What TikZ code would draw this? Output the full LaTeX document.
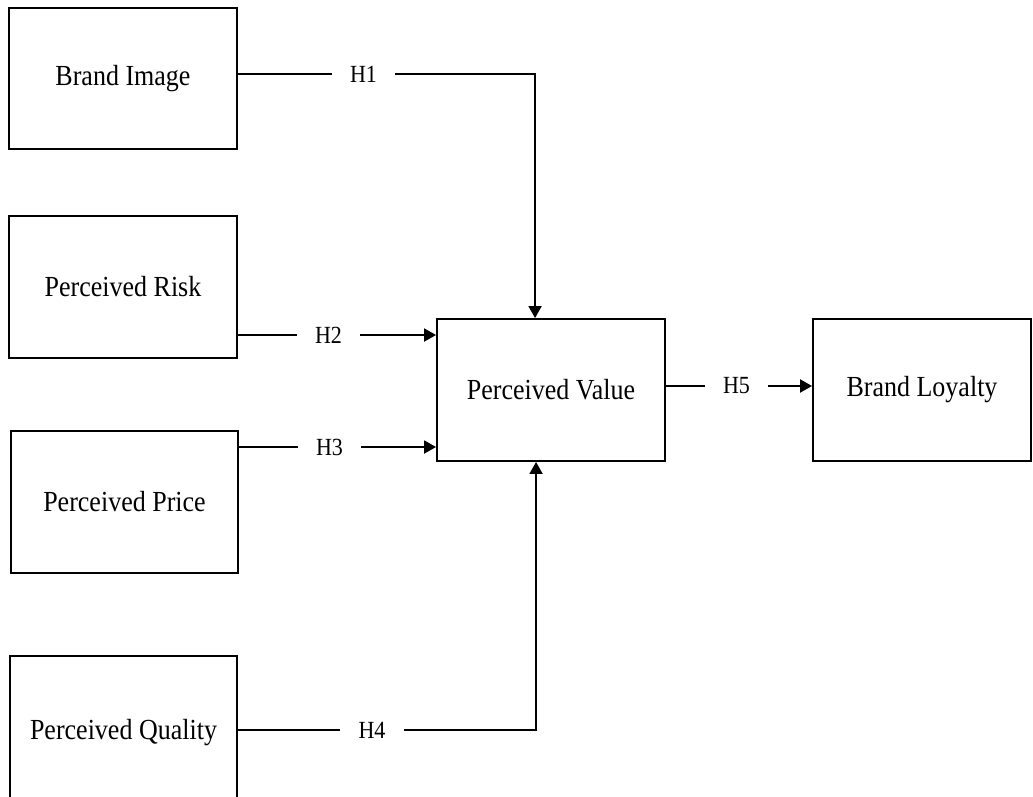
\documentclass[tikz,border=0pt]{standalone}
\usepackage{fontspec}
\setmainfont{Liberation Serif}
\usetikzlibrary{arrows.meta}
\begin{document}
\begin{tikzpicture}[x=1pt,y=-1pt,
  box/.style={draw, line width=1.9pt, inner sep=0pt, font=\fontsize{26}{30}\selectfont},
  hlab/.style={inner xsep=18pt, inner ysep=2pt, font=\fontsize{22}{26}\selectfont},
  conn/.style={line width=1.9pt},
  arr/.style={conn, -{Triangle[length=12pt,width=13pt]}}]
\useasboundingbox (0,0) rectangle (1033,796);
\fill[white] (0,0) rectangle (1033,796);
\node[box, minimum width=228pt, minimum height=141pt] (bi) at (123,78.5) {\scalebox{1}[1.12]{Brand Image}};
\node[box, minimum width=228pt, minimum height=142pt] (pr) at (123,287) {\scalebox{1}[1.12]{Perceived Risk}};
\node[box, minimum width=227pt, minimum height=142pt] (pp) at (124.5,502) {\scalebox{1}[1.12]{Perceived Price}};
\node[box, minimum width=227pt, minimum height=154pt] (pq) at (123.5,733) {\scalebox{1}[1.12]{Perceived Quality}};
\node[box, minimum width=228pt, minimum height=142pt] (pv) at (551,390) {\scalebox{1}[1.12]{Perceived Value}};
\node[box, minimum width=218pt, minimum height=142pt] (bl) at (922,390) {\scalebox{1}[1.12]{Brand Loyalty}};
\node[hlab] (h1) at (363.5,74) {\scalebox{1}[1.12]{H1}};
\node[hlab] (h2) at (328.5,335) {\scalebox{1}[1.12]{H2}};
\node[hlab] (h3) at (329.5,447) {\scalebox{1}[1.12]{H3}};
\node[hlab] (h4) at (372,730) {\scalebox{1}[1.12]{H4}};
\node[hlab] (h5) at (736.5,386) {\scalebox{1}[1.12]{H5}};
\draw[conn] (bi.east |- h1) -- (h1.west);
\draw[arr] (h1.east) -| ([xshift=99pt]pv.north west);
\draw[conn] (pr.east |- h2) -- (h2.west);
\draw[arr] (h2.east) -- (h2.east -| pv.west);
\draw[conn] (pp.east |- h3) -- (h3.west);
\draw[arr] (h3.east) -- (h3.east -| pv.west);
\draw[conn] (pq.east |- h4) -- (h4.west);
\draw[arr] (h4.east) -| ([xshift=100pt]pv.south west);
\draw[conn] (pv.east |- h5) -- (h5.west);
\draw[arr] (h5.east) -- (h5.east -| bl.west);
\end{tikzpicture}
\end{document}
